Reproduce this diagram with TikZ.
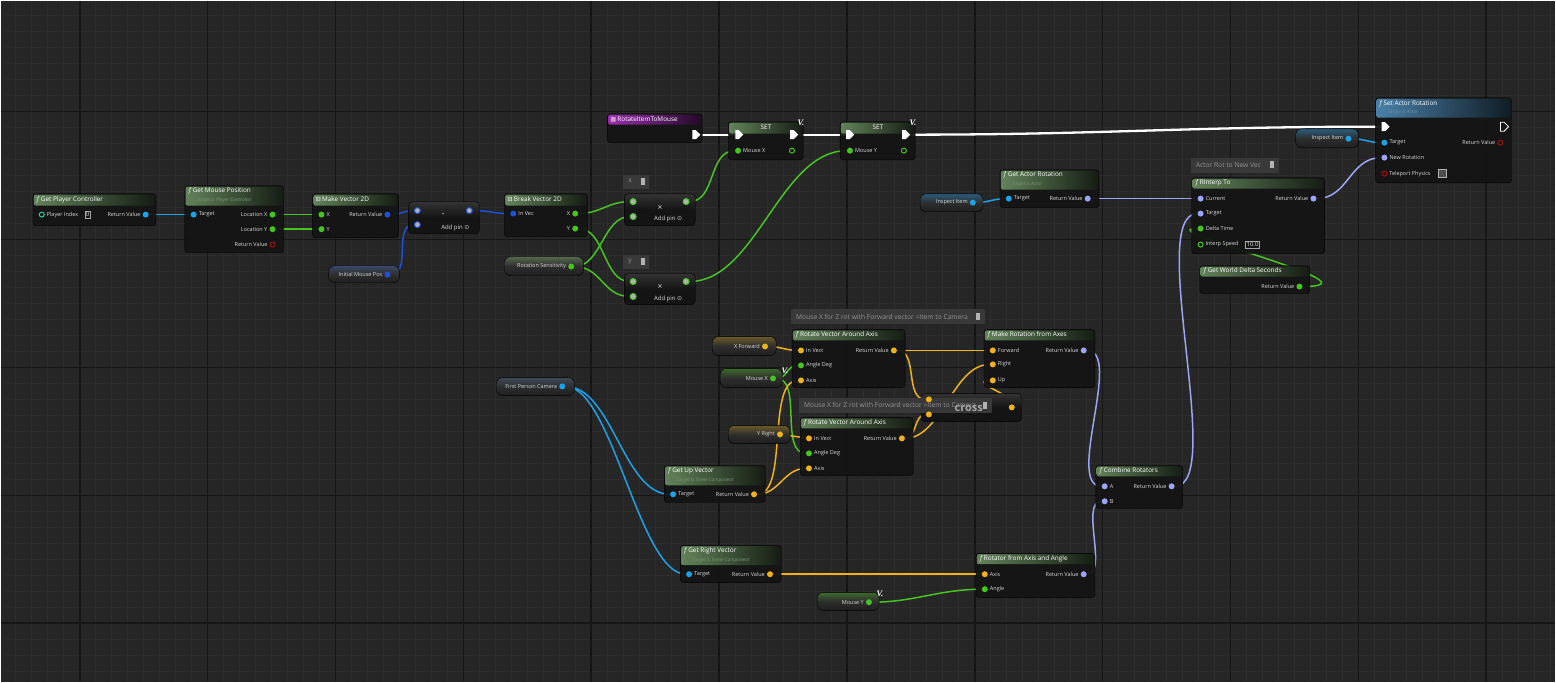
\documentclass[tikz,border=0pt]{standalone}
\usepackage{fontspec}
\setmainfont{Open Sans}
\newfontfamily\symf{DejaVu Sans}
\newfontfamily\vfont{Liberation Serif}
\usetikzlibrary{shapes.symbols}

\definecolor{gridbg}{HTML}{262626}
\definecolor{gridmin}{HTML}{2D2D2D}
\definecolor{gridmaj}{HTML}{161616}
\definecolor{nodebg}{HTML}{131413}
\definecolor{hgreen}{HTML}{62835A}
\definecolor{hblue}{HTML}{4A80A8}
\definecolor{hpurple}{HTML}{9A2FAE}
\definecolor{cobj}{HTML}{1CA2E8}
\definecolor{cvtwo}{HTML}{1E50D8}
\definecolor{cflt}{HTML}{46C420}
\definecolor{cvec}{HTML}{EFB21A}
\definecolor{crot}{HTML}{9CA5F4}
\definecolor{cbool}{HTML}{9A1212}
\definecolor{cint}{HTML}{26D0A4}
\definecolor{txt}{HTML}{DADADA}
\definecolor{subt}{HTML}{7A9A70}
\definecolor{subb}{HTML}{6E93AE}
\definecolor{cmt}{HTML}{3B3B3B}
\definecolor{vtblue}{HTML}{3C4866}
\definecolor{vtgray}{HTML}{56684E}
\definecolor{vtgreen}{HTML}{3E6A2E}
\definecolor{vtobj}{HTML}{2B5C7C}
\definecolor{vtvec}{HTML}{6A5A2A}
\definecolor{vtcam}{HTML}{3E4A56}

\pgfdeclarelayer{grid}
\pgfdeclarelayer{wires}
\pgfsetlayers{grid,wires,main}

\newcommand{\fic}{{\color{white!70}\itshape f}\hspace{2pt}}
\newcommand{\nodehead}[3]{\path[hdr=#3] ([shift={(1pt,-1pt)}]#1.north west) rectangle ([shift={(-1pt,-#2pt)}]#1.north east);}

\begin{document}
\begin{tikzpicture}[x=1pt,y=-1pt,
    sz/.style 2 args={minimum width=#1pt,minimum height=#2pt},
    fbody/.style={anchor=north west,inner sep=0,rounded corners=3pt,draw=black,fill=nodebg,fill opacity=.94},
    cbody/.style={anchor=north west,inner sep=0,rounded corners=4pt,draw=black,top color=gray!40!black,bottom color=nodebg,middle color=nodebg},
    vbody/.style={anchor=north west,inner sep=0,rounded corners=6pt,draw=black,top color=#1,bottom color=black!88,middle color=black!82},
    hdr/.style={left color=#1,right color=#1!22!black,rounded corners=2pt},
    ttl/.style={anchor=west,inner sep=0,text=white,font=\fontsize{6.4}{7}\selectfont},
    subl/.style={anchor=west,inner sep=0,text=subt,font=\fontsize{4.8}{5}\selectfont\itshape},
    plbl/.style={inner sep=1.8pt,text=txt,font=\fontsize{5.5}{6}\selectfont},
    pinf/.style={circle,fill=#1,inner sep=0,minimum size=6pt},
    pinh/.style={circle,draw=#1,line width=1pt,inner sep=0,minimum size=5pt},
    ring/.style={circle,draw=#1,line width=1pt,fill=gray!60,inner sep=0,minimum size=6pt},
    xpin/.style={shape=signal,signal to=east,fill=white,inner sep=0,minimum width=8pt,minimum height=9pt},
    xpinh/.style={xpin,fill=none,draw=white,line width=.8pt},
    valbox/.style={draw=gray!70,inner sep=1.2pt,text=txt,font=\fontsize{6}{6}\selectfont},
    sym/.style={text=txt,font=\fontsize{8.5}{8}\selectfont},
    addp/.style={text=txt,font=\fontsize{6}{6}\selectfont},
    vmark/.style={text=white,font=\vfont\bfseries\itshape\fontsize{8.5}{8}\selectfont},
    cbox/.style={anchor=north west,inner sep=0,fill=cmt,fill opacity=.92,draw=gray!45!black},
    ctxt/.style={anchor=west,inner sep=0,text=gray!85,font=\fontsize{6.7}{7}\selectfont},
    cico/.style={fill=gray!60,inner sep=0,minimum width=4pt,minimum height=7pt},
    gmin/.style={draw=gridmin,line width=.8pt},
    gmaj/.style={draw=gridmaj,line width=1.6pt},
    wire/.style={draw=#1,line width=1.5pt},
    exec/.style={draw=white,line width=2.3pt}]

    % grid
    \begin{pgfonlayer}{grid}
    \fill[gridbg] (0,0) rectangle (1556,682);
    \foreach \g in {15,31,...,1551} \draw[gmin] (\g,0) -- (\g,682);
    \foreach \g in {15,31,...,671} \draw[gmin] (0,\g) -- (1556,\g);
    \foreach \g in {79,207,...,1487} \draw[gmaj] (\g,0) -- (\g,682);
    \foreach \g in {111,239,...,623} \draw[gmaj] (0,\g) -- (1556,\g);
    \end{pgfonlayer}
    \useasboundingbox (0,0) rectangle (1556,682);

    % player controller / mouse position
    \node[fbody,sz={123}{32}] (gpc) at (32,193) {};
    \nodehead{gpc}{12}{hgreen}
    \node[ttl] (gpc-h) at ([shift={(4pt,-6pt)}]gpc.north west) {\fic Get Player Controller};
    \node[pinh=cint,label={[plbl]right:Player Index}] (gpc-i) at (41,214) {};
    \node[valbox] (gpc-v) at (87,214) {0};
    \node[pinf=cobj,label={[plbl]left:Return Value}] (gpc-o) at (145,214) {};

    \node[fbody,sz={99}{67}] (gmp) at (184,185) {};
    \nodehead{gmp}{20}{hgreen}
    \node[ttl] (gmp-h) at ([shift={(4pt,-5.5pt)}]gmp.north west) {\fic Get Mouse Position};
    \node[subl] (gmp-s) at ([shift={(12pt,-15pt)}]gmp.north west) {Target is Player Controller};
    \node[pinf=cobj,label={[plbl]right:Target}] (gmp-t) at (193,214) {};
    \node[pinf=cflt,label={[plbl]left:Location X}] (gmp-x) at (272,214) {};
    \node[pinf=cflt,label={[plbl]left:Location Y}] (gmp-y) at (272,228.6) {};
    \node[pinh=cbool,label={[plbl]left:Return Value}] (gmp-r) at (272,244) {};

    \node[fbody,sz={86}{44}] (mv2) at (312,193) {};
    \nodehead{mv2}{12}{hgreen}
    \node[ttl] (mv2-h) at ([shift={(3pt,-6pt)}]mv2.north west) {{\symf ⊟}\,Make Vector 2D};
    \node[pinf=cflt,label={[plbl]right:X}] (mv2-x) at (321,214) {};
    \node[pinf=cflt,label={[plbl]right:Y}] (mv2-y) at (321,228.6) {};
    \node[pinf=cvtwo,label={[plbl]left:Return Value}] (mv2-o) at (387,214) {};

    \node[cbody,sz={71}{32}] (sub) at (408,201) {};
    \node[ring=cvtwo] (sub-a) at (417,210) {};
    \node[ring=cvtwo] (sub-b) at (417,224) {};
    \node[ring=cvtwo] (sub-o) at (469,210) {};
    \node[sym] (sub-s) at (443,215) {-};
    \node[addp] (sub-p) at (455,227) {Add pin {\symf ⊙}};

    \node[vbody=vtblue,sz={71}{17}] (imp) at (328,265) {};
    \node[pinf=cvtwo,label={[plbl]left:Initial Mouse Pos}] (imp-o) at (387,274) {};

    % break + multiply
    \node[fbody,sz={83}{43}] (brk) at (504,193) {};
    \nodehead{brk}{12}{hgreen}
    \node[ttl] (brk-h) at ([shift={(3pt,-6pt)}]brk.north west) {{\symf ⊟}\,Break Vector 2D};
    \node[pinf=cvtwo,label={[plbl]right:In Vec}] (brk-i) at (513,213) {};
    \node[pinf=cflt,label={[plbl]left:X}] (brk-x) at (575,213) {};
    \node[pinf=cflt,label={[plbl]left:Y}] (brk-y) at (575,228) {};

    \node[vbody=vtgray,sz={79}{19}] (rs) at (504,256) {};
    \node[pinf=cflt,label={[plbl]left:Rotation Sensitivity}] (rs-o) at (571,266) {};

    \node[cbox,sz={25}{13}] (cx) at (623,174) {};
    \node[ctxt] (cx-t) at (628,180.5) {x};
    \node[cico] (cx-i) at (643,180.5) {};
    \node[cbody,sz={71}{32}] (mulx) at (624,193) {};
    \node[ring=cflt] (mulx-a) at (633,201) {};
    \node[ring=cflt] (mulx-b) at (633,216) {};
    \node[ring=cflt] (mulx-o) at (686,201) {};
    \node[sym] (mulx-s) at (660,207) {×};
    \node[addp] (mulx-p) at (668,218) {Add pin {\symf ⊙}};

    \node[cbox,sz={25}{13}] (cy) at (623,254) {};
    \node[ctxt] (cy-t) at (628,260.5) {y};
    \node[cico] (cy-i) at (643,260.5) {};
    \node[cbody,sz={71}{31}] (muly) at (624,273) {};
    \node[ring=cflt] (muly-a) at (633,281) {};
    \node[ring=cflt] (muly-b) at (633,296) {};
    \node[ring=cflt] (muly-o) at (686,281) {};
    \node[sym] (muly-s) at (660,287) {×};
    \node[addp] (muly-p) at (668,298) {Add pin {\symf ⊙}};

    % event and setters
    \node[fbody,sz={95}{29}] (evt) at (607,113) {};
    \nodehead{evt}{11}{hpurple}
    \node[ttl] (evt-h) at ([shift={(3pt,-5.5pt)}]evt.north west) {{\symf\color{violet!40}■}\,RotateItemToMouse};
    \node[xpin] (evt-o) at (694,134) {};

    \node[fbody,sz={75}{38}] (setx) at (728,121) {};
    \nodehead{setx}{12}{hgreen}
    \node[ttl,anchor=center] (setx-h) at (766,127) {SET};
    \node[xpin] (setx-i) at (737,134) {};
    \node[xpin] (setx-e) at (792,134) {};
    \node[pinf=cflt,label={[plbl]right:Mouse X}] (setx-v) at (738,150) {};
    \node[pinh=cflt] (setx-o) at (792,150) {};
    \node[vmark] (setx-m) at (801,122) {V.};

    \node[fbody,sz={75}{38}] (sety) at (840,121) {};
    \nodehead{sety}{12}{hgreen}
    \node[ttl,anchor=center] (sety-h) at (878,127) {SET};
    \node[xpin] (sety-i) at (848,134) {};
    \node[xpin] (sety-e) at (904,134) {};
    \node[pinf=cflt,label={[plbl]right:Mouse Y}] (sety-v) at (850,150) {};
    \node[pinh=cflt] (sety-o) at (904,150) {};
    \node[vmark] (sety-m) at (913,122) {V.};

    % actor rotation
    \node[fbody,sz={136}{85}] (sar) at (1376,97) {};
    \nodehead{sar}{20}{hblue}
    \node[ttl] (sar-h) at ([shift={(4pt,-6pt)}]sar.north west) {\fic Set Actor Rotation};
    \node[subl,text=subb] (sar-s) at ([shift={(12pt,-15pt)}]sar.north west) {Target is Actor};
    \node[xpin] (sar-i) at (1384,126) {};
    \node[xpinh] (sar-e) at (1503,126) {};
    \node[pinf=cobj,label={[plbl]right:Target}] (sar-t) at (1385,142) {};
    \node[pinh=cbool,label={[plbl]left:Return Value}] (sar-r) at (1501,142) {};
    \node[pinf=crot,label={[plbl]right:New Rotation}] (sar-n) at (1385,157) {};
    \node[pinh=cbool,label={[plbl]right:Teleport Physics}] (sar-p) at (1385,173) {};
    \node[draw=gray!60,fill=black!70,minimum size=8pt,inner sep=0] (sar-c) at (1443,173) {};

    \node[vbody=vtobj,sz={63}{19}] (ii1) at (1296,128) {};
    \node[pinf=cobj,label={[plbl]left:Inspect Item}] (ii1-o) at (1349,138) {};

    \node[fbody,sz={99}{38}] (gar) at (1000,169) {};
    \nodehead{gar}{20}{hgreen}
    \node[ttl] (gar-h) at ([shift={(4pt,-5.5pt)}]gar.north west) {\fic Get Actor Rotation};
    \node[subl] (gar-s) at ([shift={(12pt,-15pt)}]gar.north west) {Target is Actor};
    \node[pinf=cobj,label={[plbl]right:Target}] (gar-t) at (1009,198) {};
    \node[pinf=crot,label={[plbl]left:Return Value}] (gar-o) at (1088,198) {};

    \node[vbody=vtobj,sz={63}{18}] (ii2) at (920,193) {};
    \node[pinf=cobj,label={[plbl]left:Inspect Item}] (ii2-o) at (973,202) {};

    \node[cbox,sz={87}{14}] (c3) at (1191,157) {};
    \node[ctxt] (c3-t) at (1196,164) {Actor Rot to New Vec};
    \node[cico] (c3-i) at (1272,164) {};

    \node[fbody,sz={133}{76}] (rin) at (1192,177) {};
    \nodehead{rin}{11}{hgreen}
    \node[ttl] (rin-h) at ([shift={(4pt,-5.5pt)}]rin.north west) {\fic RInterp To};
    \node[pinf=crot,label={[plbl]right:Current}] (rin-c) at (1201,198) {};
    \node[pinf=crot,label={[plbl]left:Return Value}] (rin-o) at (1314,198) {};
    \node[pinf=crot,label={[plbl]right:Target}] (rin-t) at (1201,213) {};
    \node[pinf=cflt,label={[plbl]right:Delta Time}] (rin-d) at (1201,228) {};
    \node[pinh=cflt,label={[plbl]right:Interp Speed}] (rin-s) at (1201,244) {};
    \node[valbox] (rin-v) at (1253,244) {10.0};

    \node[fbody,sz={110}{28}] (wds) at (1200,265) {};
    \nodehead{wds}{11}{hgreen}
    \node[ttl] (wds-h) at ([shift={(4pt,-5.5pt)}]wds.north west) {\fic Get World Delta Seconds};
    \node[pinf=cflt,label={[plbl]left:Return Value}] (wds-o) at (1300,286) {};

    % vector rotation
    \node[cbox,sz={193}{14}] (c1) at (791,309) {};
    \node[ctxt] (c1-t) at (796,316) {Mouse X for Z rot with Forward vector =Item to Camera};
    \node[cico] (c1-i) at (978,316) {};

    \node[fbody,sz={113}{58}] (rv1) at (792,329) {};
    \nodehead{rv1}{11}{hgreen}
    \node[ttl] (rv1-h) at ([shift={(4pt,-5.5pt)}]rv1.north west) {\fic Rotate Vector Around Axis};
    \node[pinf=cvec,label={[plbl]right:In Vect}] (rv1-v) at (801,350) {};
    \node[pinf=cflt,label={[plbl]right:Angle Deg}] (rv1-a) at (801,365) {};
    \node[pinf=cvec,label={[plbl]right:Axis}] (rv1-x) at (801,380) {};
    \node[pinf=cvec,label={[plbl]left:Return Value}] (rv1-o) at (894,350) {};

    \node[vbody=vtvec,sz={64}{19}] (xf) at (712,336) {};
    \node[pinf=cvec,label={[plbl]left:X Forward}] (xf-o) at (765,346) {};
    \node[vbody=vtgreen,sz={62}{19}] (mx) at (720,368) {};
    \node[pinf=cflt,label={[plbl]left:Mouse X}] (mx-o) at (773,378) {};
    \node[vmark] (mx-m) at (785,370) {V.};

    \node[fbody,sz={111}{58}] (mra) at (984,329) {};
    \nodehead{mra}{11}{hgreen}
    \node[ttl] (mra-h) at ([shift={(4pt,-5.5pt)}]mra.north west) {\fic Make Rotation from Axes};
    \node[pinf=cvec,label={[plbl]right:Forward}] (mra-f) at (993,350) {};
    \node[pinf=cvec,label={[plbl]right:Right}] (mra-r) at (993,364) {};
    \node[pinf=cvec,label={[plbl]right:Up}] (mra-u) at (993,380) {};
    \node[pinf=crot,label={[plbl]left:Return Value}] (mra-o) at (1084,350) {};

    \node[cbody,sz={101}{28}] (crs) at (921,393) {};
    \node[cbox,sz={192}{14}] (c2) at (799,398) {};
    \node[ctxt] (c2-t) at (804,405) {Mouse X for Z rot with Forward vector =Item to Camera};
    \node[cico] (c2-i) at (985,405) {};
    \node[text=gray!70,font=\fontsize{11}{11}\selectfont\bfseries] (crs-s) at (969,408) {cross};
    \node[pinf=cvec] (crs-a) at (929,399) {};
    \node[pinf=cvec] (crs-b) at (929,414) {};
    \node[pinf=cvec] (crs-o) at (1012,407) {};

    \node[fbody,sz={113}{58}] (rv2) at (800,417) {};
    \nodehead{rv2}{11}{hgreen}
    \node[ttl] (rv2-h) at ([shift={(4pt,-5.5pt)}]rv2.north west) {\fic Rotate Vector Around Axis};
    \node[pinf=cvec,label={[plbl]right:In Vect}] (rv2-v) at (809,438) {};
    \node[pinf=cflt,label={[plbl]right:Angle Deg}] (rv2-a) at (809,453) {};
    \node[pinf=cvec,label={[plbl]right:Axis}] (rv2-x) at (809,468) {};
    \node[pinf=cvec,label={[plbl]left:Return Value}] (rv2-o) at (902,438) {};

    \node[vbody=vtvec,sz={62}{18}] (yr) at (728,425) {};
    \node[pinf=cvec,label={[plbl]left:Y Right}] (yr-o) at (780,434) {};
    \node[vbody=vtcam,sz={78}{18}] (fpc) at (496,377) {};
    \node[pinf=cobj,label={[plbl]left:First Person Camera}] (fpc-o) at (562,386) {};

    \node[fbody,sz={101}{37}] (guv) at (664,465) {};
    \nodehead{guv}{20}{hgreen}
    \node[ttl] (guv-h) at ([shift={(4pt,-5.5pt)}]guv.north west) {\fic Get Up Vector};
    \node[subl] (guv-s) at ([shift={(12pt,-15pt)}]guv.north west) {Target is Scene Component};
    \node[pinf=cobj,label={[plbl]right:Target}] (guv-t) at (673,494) {};
    \node[pinf=cvec,label={[plbl]left:Return Value}] (guv-o) at (754,494) {};

    \node[fbody,sz={87}{43}] (cmb) at (1096,465) {};
    \nodehead{cmb}{11}{hgreen}
    \node[ttl] (cmb-h) at ([shift={(4pt,-5.5pt)}]cmb.north west) {\fic Combine Rotators};
    \node[pinf=crot,label={[plbl]right:A}] (cmb-a) at (1105,486) {};
    \node[pinf=crot,label={[plbl]right:B}] (cmb-b) at (1105,501) {};
    \node[pinf=crot,label={[plbl]left:Return Value}] (cmb-o) at (1172,486) {};

    \node[fbody,sz={101}{37}] (grv) at (680,545) {};
    \nodehead{grv}{20}{hgreen}
    \node[ttl] (grv-h) at ([shift={(4pt,-5.5pt)}]grv.north west) {\fic Get Right Vector};
    \node[subl] (grv-s) at ([shift={(12pt,-15pt)}]grv.north west) {Target is Scene Component};
    \node[pinf=cobj,label={[plbl]right:Target}] (grv-t) at (689,574) {};
    \node[pinf=cvec,label={[plbl]left:Return Value}] (grv-o) at (770,574) {};

    \node[fbody,sz={119}{44}] (raa) at (976,553) {};
    \nodehead{raa}{11}{hgreen}
    \node[ttl] (raa-h) at ([shift={(4pt,-5.5pt)}]raa.north west) {\fic Rotator from Axis and Angle};
    \node[pinf=cvec,label={[plbl]right:Axis}] (raa-x) at (985,574) {};
    \node[pinf=cflt,label={[plbl]right:Angle}] (raa-a) at (985,589) {};
    \node[pinf=crot,label={[plbl]left:Return Value}] (raa-o) at (1084,574) {};

    \node[vbody=vtgreen,sz={62}{18}] (my) at (817,592) {};
    \node[pinf=cflt,label={[plbl]left:Mouse Y}] (my-o) at (869,602) {};
    \node[vmark] (my-m) at (880,594) {V.};

    % wires
    \begin{pgfonlayer}{wires}
    \draw[exec] (evt-o) -- (setx-i);
    \draw[exec] (setx-e) -- (sety-i);
    \draw[exec] (sety-e) .. controls +(200,0) and +(-200,0) .. (sar-i);
    \draw[wire=cobj] (gpc-o) -- (gmp-t);
    \draw[wire=cflt] (gmp-x) -- (mv2-x);
    \draw[wire=cflt] (gmp-y) -- (mv2-y);
    \draw[wire=cvtwo] (mv2-o) .. controls +(15,0) and +(-15,0) .. (sub-a);
    \draw[wire=cvtwo] (imp-o) .. controls +(25,0) and +(-25,0) .. (sub-b);
    \draw[wire=cvtwo] (sub-o) .. controls +(20,0) and +(-20,0) .. (brk-i);
    \draw[wire=cflt] (brk-x) .. controls +(25,0) and +(-25,0) .. (mulx-a);
    \draw[wire=cflt] (brk-y) .. controls +(30,0) and +(-30,0) .. (muly-a);
    \draw[wire=cflt] (rs-o) .. controls +(30,0) and +(-30,0) .. (mulx-b);
    \draw[wire=cflt] (rs-o) .. controls +(30,0) and +(-30,0) .. (muly-b);
    \draw[wire=cflt] (mulx-o) .. controls +(30,0) and +(-30,0) .. (setx-v);
    \draw[wire=cflt] (muly-o) .. controls +(70,0) and +(-70,0) .. (sety-v);
    \draw[wire=cobj] (ii1-o) .. controls +(15,0) and +(-15,0) .. (sar-t);
    \draw[wire=cobj] (ii2-o) .. controls +(15,0) and +(-15,0) .. (gar-t);
    \draw[wire=crot] (gar-o) -- (rin-c);
    \draw[wire=crot] (rin-o) .. controls +(35,0) and +(-35,0) .. (sar-n);
    \draw[wire=crot] (cmb-o) .. controls +(55,0) and +(-55,0) .. (rin-t);
    \draw[wire=cflt] (wds-o) .. controls +(90,0) and +(-55,0) .. (rin-d);
    \draw[wire=crot] (mra-o) .. controls +(40,0) and +(-40,0) .. (cmb-a);
    \draw[wire=crot] (raa-o) .. controls +(25,0) and +(-25,0) .. (cmb-b);
    \draw[wire=cvec] (rv1-o) -- (mra-f);
    \draw[wire=cvec] (rv1-o) .. controls +(25,0) and +(-25,0) .. (crs-a);
    \draw[wire=cvec] (rv2-o) .. controls +(15,0) and +(-15,0) .. (crs-b);
    \draw[wire=cvec] (rv2-o) .. controls +(40,0) and +(-40,0) .. (mra-r);
    \draw[wire=cvec] (crs-o) .. controls +(30,0) and +(-30,0) .. (mra-u);
    \draw[wire=cvec] (xf-o) .. controls +(15,0) and +(-15,0) .. (rv1-v);
    \draw[wire=cflt] (mx-o) .. controls +(15,0) and +(-15,0) .. (rv1-a);
    \draw[wire=cflt] (mx-o) .. controls +(30,0) and +(-30,0) .. (rv2-a);
    \draw[wire=cvec] (guv-o) .. controls +(35,0) and +(-35,0) .. (rv1-x);
    \draw[wire=cvec] (guv-o) .. controls +(25,0) and +(-25,0) .. (rv2-x);
    \draw[wire=cvec] (yr-o) -- (rv2-v);
    \draw[wire=cobj] (fpc-o) .. controls +(50,0) and +(-50,0) .. (guv-t);
    \draw[wire=cobj] (fpc-o) .. controls +(50,0) and +(-50,0) .. (grv-t);
    \draw[wire=cvec] (grv-o) -- (raa-x);
    \draw[wire=cflt] (my-o) .. controls +(45,0) and +(-45,0) .. (raa-a);
    \end{pgfonlayer}
\end{tikzpicture}
\end{document}
